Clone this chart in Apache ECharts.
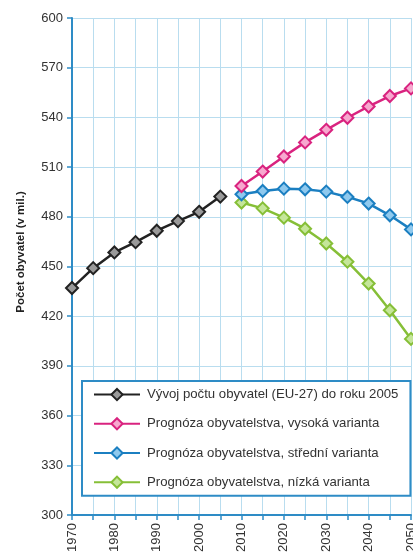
<!DOCTYPE html>
<html><head><meta charset="utf-8">
<script src="https://cdn.jsdelivr.net/npm/echarts@6/dist/echarts.min.js"></script>
<style>html,body{margin:0;padding:0;background:#fff}#c{width:413px;height:552px}</style>
</head><body><div id="c"></div>
<script>
const histYears = [1970,1975,1980,1985,1990,1995,2000,2005];
const histValues = [437,449,458.5,464.7,471.6,477.4,483,492.2];
const projYears = [2010,2015,2020,2025,2030,2035,2040,2045,2050];
const highValues = [498.6,507.3,516.4,524.9,532.5,539.8,546.6,552.9,557.5];
const midValues = [493.6,495.6,497,496.6,495.2,492,488,480.9,472.4];
const lowValues = [488.6,485.1,479.5,472.8,463.9,452.9,439.7,423.6,406.3];
const seriesNames = [
  'Vývoj počtu obyvatel (EU-27) do roku 2005',
  'Prognóza obyvatelstva, vysoká varianta',
  'Prognóza obyvatelstva, střední varianta',
  'Prognóza obyvatelstva, nízká varianta'
];
const yAxisName = 'Počet obyvatel (v mil.)';

const colors = ['#222222','#d9237f','#1b7fc1','#86bf37'];
const fills = ['#9a9a9a','#f7a8cf','#8fc9ee','#c5e69a'];
const axisBlue = '#2e8cc6';

function pairs(xs, ys){ return xs.map((x,i)=>[x, ys[i]]); }
function mk(i, data){
  return {
    name: seriesNames[i], type:'line', data, symbol:'diamond', symbolSize:12,
    clip:false,
    lineStyle:{color:colors[i], width:2.5},
    itemStyle:{color:fills[i], borderColor:colors[i], borderWidth:2},
    emphasis:{disabled:true}, z: 5-i
  };
}

const chart = echarts.init(document.getElementById('c'), null, {renderer:'canvas'});
chart.setOption({
  animation:false,
  textStyle:{fontFamily:'Liberation Sans, Arial, sans-serif'},
  grid:{left:72, top:18, right:2, bottom:37, containLabel:false, outerBoundsMode:'none'},
  graphic:[{
    type:'text', x:21, y:252, rotation:Math.PI/2,
    style:{text:yAxisName, fontSize:11.5, fontWeight:'bold', fill:'#222',
      fontFamily:'Liberation Sans, Arial, sans-serif',
      align:'center', verticalAlign:'middle'}
  }],
  xAxis:{
    type:'value', min:1970, max:2050, interval:5,
    axisLine:{lineStyle:{color:axisBlue, width:2}},
    axisTick:{show:true, length:5, lineStyle:{color:axisBlue, width:1.5}},
    axisLabel:{rotate:90, color:'#333', fontSize:13, margin:8,
      formatter:v => (v%10===0 ? String(v) : '')},
    splitLine:{show:true, lineStyle:{color:'#b9ddef', width:1}}
  },
  yAxis:{
    type:'value', min:300, max:600, interval:30,
    axisLine:{show:true, lineStyle:{color:axisBlue, width:2}},
    axisTick:{show:true, length:5, lineStyle:{color:axisBlue, width:1.5}},
    axisLabel:{color:'#333', fontSize:13, margin:9},
    splitLine:{show:true, lineStyle:{color:'#b9ddef', width:1}}
  },
  legend:{
    orient:'vertical', left:82, top:381,
    backgroundColor:'#fff', borderColor:axisBlue, borderWidth:2,
    padding:[7,12,7,11], itemGap:16, itemWidth:46, itemHeight:14,
    textStyle:{fontSize:13.2, color:'#333', padding:[0,0,0,2]},
    data:seriesNames
  },
  series:[
    mk(0, pairs(histYears, histValues)),
    mk(1, pairs(projYears, highValues)),
    mk(2, pairs(projYears, midValues)),
    mk(3, pairs(projYears, lowValues))
  ]
});
</script></body></html>
